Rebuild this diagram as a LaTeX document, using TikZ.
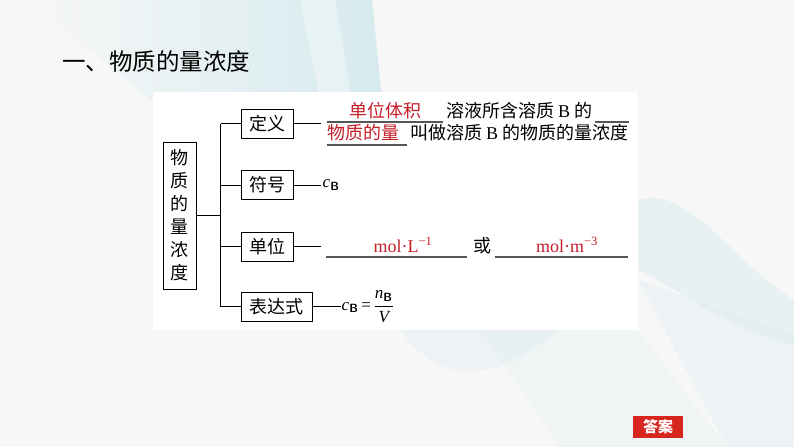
\documentclass[tikz,border=0pt]{standalone}
\usepackage{amsmath}
\usepackage{fontspec}
\setmainfont{Noto Sans CJK SC}
\newfontfamily\tnr{Liberation Serif}
\usepackage{tikz}
\usetikzlibrary{positioning}
\definecolor{pagebg}{RGB}{247,247,247}
\definecolor{tealbg}{RGB}{214,234,238}
\definecolor{keyred}{RGB}{196,30,40}
\definecolor{ansred}{RGB}{214,38,30}
\definecolor{ulgray}{RGB}{85,85,85}
\newcommand{\subB}{\textsubscript{\sffamily\bfseries B}}
\newcommand{\cB}{{\tnr\itshape c}\subB}
\newcommand{\nB}{{\tnr\itshape n}\subB}

\begin{document}
\begin{tikzpicture}[
  x=1pt, y=-1pt,
  txt/.style={font=\fontsize{18}{20}\selectfont, inner sep=0pt},
  keytxt/.style={text=keyred, font=\fontsize{18}{20}\selectfont, inner sep=0pt},
  unittxt/.style={text=keyred, font=\tnr\fontsize{18}{20}\selectfont, inner sep=0pt},
  box/.style={draw, line width=1pt, align=center, inner sep=2pt, minimum height=29pt, font=\fontsize{18}{23}\selectfont},
  formula/.style={anchor=west, inner sep=2pt, font=\fontsize{17}{17}\selectfont},
  link/.style={line width=1pt},
  blank/.style={draw=ulgray, line width=1.3pt}
]

\useasboundingbox (0,0) rectangle (794,447);
\fill[pagebg] (0,0) rectangle (794,447);
\shade[left color=pagebg, right color=tealbg] (30,0) -- (372,0) -- (382,100) -- (150,100) -- cycle;
\fill[white, opacity=0.35] (300,0) -- (335,0) -- (352,100) -- (320,100) -- cycle;
\fill[tealbg, opacity=0.45] (638,200) .. controls (690,185) and (730,260) .. (794,300) -- (794,345) .. controls (730,330) and (680,290) .. (638,270) -- cycle;
\fill[tealbg, opacity=0.3] (638,280) -- (794,335) -- (794,447) -- (727,447) -- cycle;
\fill[tealbg, opacity=0.3] (400,330) .. controls (440,385) and (490,385) .. (560,330) -- cycle;
\fill[tealbg, opacity=0.2] (480,330) -- (638,330) -- (727,447) -- (560,447) -- cycle;
\fill[white] (153,92) rectangle (638,330);

\node[anchor=west, inner sep=0pt, font=\fontsize{23.5}{24}\selectfont] (title) at (62,62) {一、物质的量浓度};

\node[box, minimum width=33pt, minimum height=147pt, inner sep=0pt] (root) at (179.5,215.5) {物\\质\\的\\量\\浓\\度};

\node[box, minimum width=52pt] (def) at (267,123.5) {定义};
\node[box, minimum width=52pt] (sym) at (267,185) {符号};
\node[box, minimum width=52pt] (unit) at (267,246.5) {单位};
\node[box, minimum width=71pt] (expr) at (276.5,306.5) {表达式};

\draw[link] (root.east) -- ++(24,0) coordinate (fork);
\draw[link] (fork |- def.west) -- (fork |- expr.west);
\foreach \b in {def,sym,unit,expr}
  \draw[link] (fork |- \b.west) -- (\b.west);

\draw[link] (def.east) -- ++(27,0);
\node[keytxt, anchor=base] (vol) at (385,117) {单位体积};
\draw[blank] (327,122) -- (443,122);
\node[txt, anchor=base west] (defa) at (446,117) {溶液所含溶质 {\tnr B} 的};
\draw[blank] (595,122) -- (629,122);
\node[keytxt, anchor=base west] (amt) at (327,139) {物质的量};
\draw[blank] (327,145) -- (407,145);
\node[txt, anchor=base west] (defb) at (410,139) {叫做溶质 {\tnr B} 的物质的量浓度};

\draw[link] (sym.east) -- ++(27,0) coordinate (symend);
\node[formula] (cb) at (symend) {\cB};

\draw[link] (unit.east) -- ++(27,0);
\node[unittxt, anchor=base] (molL) at (403,252) {mol·L\textsuperscript{−1}};
\draw[blank] (326,257) -- (467,257);
\node[txt, anchor=base] (or) at (482,252) {或};
\node[unittxt, anchor=base] (molm) at (567,252) {mol·m\textsuperscript{−3}};
\draw[blank] (495,257) -- (628,257);

\draw[link] (expr.east) -- ++(28,0) coordinate (exprend);
\node[formula, inner sep=1pt] (conc) at (exprend) {\cB\,{\tnr =}\,$\dfrac{\mbox{\nB}}{\mbox{\tnr\itshape V}}$};

\node[fill=ansred, text=white, inner sep=0pt, minimum width=50pt, minimum height=22pt, font=\bfseries\fontsize{15}{15}\selectfont] (answer) at (658,427) {答案};

\end{tikzpicture}
\end{document}
